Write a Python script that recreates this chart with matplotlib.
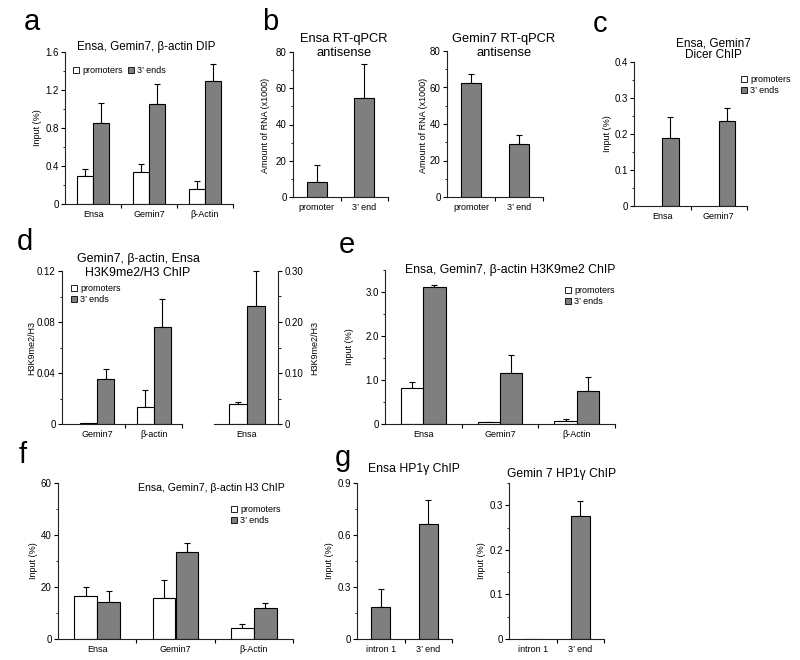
"""Multi-panel ChIP / RT-qPCR bar chart figure (panels a-g)."""

import numpy as np
import matplotlib
matplotlib.use('Agg')  # noqa
import matplotlib.pyplot as plt
from matplotlib.patches import Patch
from matplotlib.ticker import MultipleLocator, FuncFormatter

plt.rcParams['font.family'] = ['Liberation Sans', 'DejaVu Sans']

GRAY = '#7f7f7f'
W, H = 800, 660

# ---- data ----
a_genes = ['Ensa', 'Gemin7', 'β-Actin']
a_prom = [0.30, 0.34, 0.16]
a_prom_err = [0.07, 0.08, 0.08]
a_end = [0.85, 1.05, 1.29]
a_end_err = [0.21, 0.21, 0.18]

b_sites = ['promoter', '3’ end']
b_ensa = [8.5, 54.5]
b_ensa_err = [9.0, 19.0]
b_gemin = [62.5, 29.0]
b_gemin_err = [5.0, 4.8]

c_genes = ['Ensa', 'Gemin7']
c_end = [0.19, 0.236]
c_end_err = [0.057, 0.036]

d_genes = ['Gemin7', 'β-actin']
d_prom = [0.0006, 0.013]
d_prom_err = [0.0, 0.014]
d_end = [0.035, 0.076]
d_end_err = [0.0085, 0.022]
d_ensa_genes = ['Ensa']
d_ensa_prom = [0.0385]
d_ensa_prom_err = [0.0055]
d_ensa_end = [0.231]
d_ensa_end_err = [0.069]

e_genes = ['Ensa', 'Gemin7', 'β-Actin']
e_prom = [0.82, 0.04, 0.07]
e_prom_err = [0.13, 0.01, 0.05]
e_end = [3.11, 1.15, 0.75]
e_end_err = [0.05, 0.41, 0.32]

f_genes = ['Ensa', 'Gemin7', 'β-Actin']
f_prom = [16.7, 15.8, 4.4]
f_prom_err = [3.3, 6.8, 1.4]
f_end = [14.1, 33.6, 12.1]
f_end_err = [4.3, 3.4, 1.6]

g_sites = ['intron 1', '3’ end']
g_ensa = [0.185, 0.665]
g_ensa_err = [0.105, 0.135]
g_gemin = [0.0, 0.275]
g_gemin_err = [0.0, 0.035]

fig = plt.figure(figsize=(8, 6.6), dpi=100)


def make_ax(l, t, r, b):
    return fig.add_axes([l / W, 1 - b / H, (r - l) / W, (b - t) / H])


def ftext(x, y, s, **kw):
    fig.text(x / W, 1 - y / H, s, **kw)


def bars(ax, x, vals, errs, color, width):
    ax.bar(x, vals, width, color=color, edgecolor='black', linewidth=0.8, zorder=2)
    for xi, v, e in zip(x, vals, errs):
        if e > 0:
            ax.errorbar(xi, v, yerr=[[0], [e]], fmt='none', ecolor='black',
                        elinewidth=0.8, capsize=2.5, capthick=0.8, zorder=1,
                        clip_on=False)


def style(ax, labels, ylim, major, minor, dec, xlim=None, side='left'):
    n = len(labels)
    ax.spines['top'].set_visible(False)
    ax.spines['right' if side == 'left' else 'left'].set_visible(False)
    for s in ax.spines.values():
        s.set_linewidth(0.8)
        s.set_color('#222222')
    if side == 'right':
        ax.yaxis.tick_right()
    ax.set_ylim(*ylim)
    ax.yaxis.set_major_locator(MultipleLocator(major))
    ax.yaxis.set_minor_locator(MultipleLocator(minor))
    ax.yaxis.set_major_formatter(FuncFormatter(
        lambda v, _: '0' if abs(v) < 1e-9 else f'{v:.{dec}f}'))
    ax.tick_params(axis='y', which='major', length=3, width=0.8, labelsize=7, pad=1.5)
    ax.tick_params(axis='y', which='minor', length=1.8, width=0.6)
    ax.set_xlim(xlim if xlim else (-0.5, n - 0.5))
    ax.set_xticks(range(n))
    ax.set_xticklabels(labels)
    ax.set_xticks(np.arange(n) + 0.5, minor=True)
    ax.tick_params(axis='x', which='major', length=0, labelsize=6.5, pad=4)
    ax.tick_params(axis='x', which='minor', length=3, width=0.8)


def legend(x, y, ncol=1):
    handles = [Patch(facecolor='white', edgecolor='black', linewidth=0.6),
               Patch(facecolor=GRAY, edgecolor='black', linewidth=0.6)]
    fig.legend(handles, ['promoters', '3’ ends'], loc='upper left',
               bbox_to_anchor=(x / W, 1 - y / H), ncol=ncol, frameon=False,
               fontsize=6.5, handlelength=0.7, handleheight=0.7, handletextpad=0.3,
               columnspacing=0.6, borderpad=0, borderaxespad=0, labelspacing=0.25)


def grouped(ax, prom, prom_err, end, end_err, w=0.29, start=0):
    x = np.arange(len(end)) + start
    bars(ax, x - w / 2, prom, prom_err, 'white', w)
    bars(ax, x + w / 2, end, end_err, GRAY, w)


letter_kw = dict(fontsize=21, ha='center', va='center')
ylab_kw = dict(fontsize=6.5, ha='center', va='center', rotation=90)


def title(x, y, s, size, spacing=1.2):
    ftext(x, y, s, fontsize=size, ha='center', va='center', linespacing=spacing)


# ---- a ----
ax = make_ax(65, 52, 233, 204)
grouped(ax, a_prom, a_prom_err, a_end, a_end_err)
style(ax, a_genes, (0, 1.6), 0.4, 0.2, 1)
ftext(32, 22, 'a', **letter_kw)
title(146, 47, 'Ensa, Gemin7, β-actin DIP', 8.4)
ftext(37, 128, 'Input (%)', **ylab_kw)
legend(73, 66, ncol=2)

# ---- b ----
ax = make_ax(293, 52, 388, 197)
bars(ax, np.arange(2), b_ensa, b_ensa_err, GRAY, 0.42)
style(ax, b_sites, (0, 80), 20, 10, 0)
ax = make_ax(447, 51, 543, 197)
bars(ax, np.arange(2), b_gemin, b_gemin_err, GRAY, 0.4)
style(ax, b_sites, (0, 80), 20, 10, 0)
ftext(270, 22, 'b', **letter_kw)
title(344, 46, 'Ensa RT-qPCR\nantisense', 9.3, 1.15)
title(504, 46, 'Gemin7 RT-qPCR\nantisense', 9.3, 1.15)
ftext(266, 125, 'Amount of RNA (x1000)', **ylab_kw)
ftext(423, 125, 'Amount of RNA (x1000)', **ylab_kw)

# ---- c ----
ax = make_ax(634, 62, 747, 206)
w = 0.29
bars(ax, np.arange(2) + w / 2, c_end, c_end_err, GRAY, w)
style(ax, c_genes, (0, 0.4), 0.1, 0.05, 1)
ftext(600, 24, 'c', **letter_kw)
title(713, 49, 'Ensa, Gemin7\nDicer ChIP', 8.5, 0.95)
ftext(608, 134, 'Input (%)', **ylab_kw)
legend(741, 75)

# ---- d ----
ax = make_ax(62, 271, 182, 424)
grouped(ax, d_prom, d_prom_err, d_end, d_end_err, w=0.3)
style(ax, d_genes, (0, 0.12), 0.04, 0.02, 2, xlim=(-0.62, 1.38))
ax = make_ax(214, 271, 278, 424)
grouped(ax, d_ensa_prom, d_ensa_prom_err, d_ensa_end, d_ensa_end_err, w=0.3)
style(ax, d_ensa_genes, (0, 0.30), 0.10, 0.05, 2, xlim=(-0.54, 0.51), side='right')
ax.set_xticks([], minor=True)
ftext(25, 242, 'd', **letter_kw)
title(138, 266, 'Gemin7, β-actin, Ensa\nH3K9me2/H3 ChIP', 8.9, 1.3)
ftext(32, 348, 'H3K9me2/H3', **ylab_kw)
ftext(315, 348, 'H3K9me2/H3', **ylab_kw)
legend(71, 284)

# ---- e ----
ax = make_ax(385, 270, 615, 424)
grouped(ax, e_prom, e_prom_err, e_end, e_end_err)
style(ax, e_genes, (0, 3.5), 1.0, 0.5, 1)
ftext(347, 245, 'e', **letter_kw)
title(510, 270, 'Ensa, Gemin7, β-actin H3K9me2 ChIP', 8.8)
ftext(350, 347, 'Input (%)', **ylab_kw)
legend(565, 286)

# ---- f ----
ax = make_ax(58, 483, 293, 639)
grouped(ax, f_prom, f_prom_err, f_end, f_end_err)
style(ax, f_genes, (0, 60), 20, 10, 0)
ftext(23, 455, 'f', **letter_kw)
title(211, 488, 'Ensa, Gemin7, β-actin H3 ChIP', 7.6)
ftext(33, 561, 'Input (%)', **ylab_kw)
legend(231, 505)

# ---- g ----
ax = make_ax(357, 483, 452, 639)
bars(ax, np.arange(2), g_ensa, g_ensa_err, GRAY, 0.4)
style(ax, g_sites, (0, 0.9), 0.3, 0.15, 1)
ax = make_ax(509, 483, 604, 639)
bars(ax, np.arange(2), g_gemin, g_gemin_err, GRAY, 0.4)
style(ax, g_sites, (0, 0.35), 0.1, 0.05, 1)
ftext(343, 458, 'g', **letter_kw)
title(414, 469, 'Ensa HP1γ ChIP', 8.8)
title(562, 474, 'Gemin 7 HP1γ ChIP', 8.7)
ftext(330, 561, 'Input (%)', **ylab_kw)
ftext(482, 561, 'Input (%)', **ylab_kw)

fig.savefig('out.png', dpi=100)
